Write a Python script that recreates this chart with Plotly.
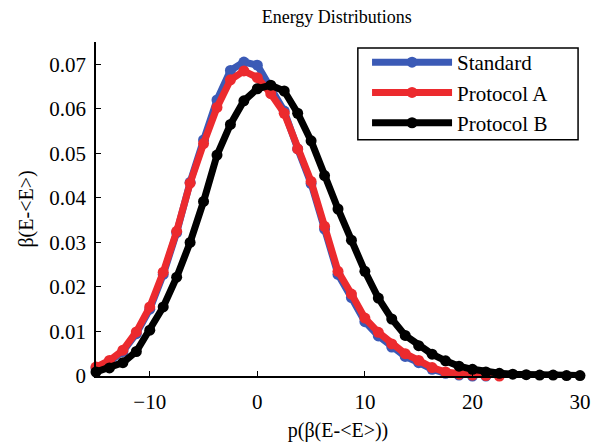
import plotly.graph_objects as go

# bin centres of the energy histograms
x_bins = [-15, -13.75, -12.5, -11.25, -10, -8.75, -7.5, -6.25, -5, -3.75, -2.5, -1.25, 0,
          1.25, 2.5, 3.75, 5, 6.25, 7.5, 8.75, 10, 11.25, 12.5, 13.75, 15, 16.25, 17.5,
          18.75, 20, 21.25, 22.5, 23.75, 25, 26.25, 27.5, 28.75, 30]

standard = [0.0018, 0.0032, 0.0055, 0.0095, 0.0150, 0.0228, 0.0322, 0.0435, 0.0530, 0.0620,
            0.0686, 0.0705, 0.0698, 0.0645, 0.0595, 0.0510, 0.0432, 0.0330, 0.0228, 0.0176,
            0.0122, 0.0090, 0.0065, 0.0044, 0.0030, 0.0015, 0.0006, 0.0002, 0.0, 0.0,
            None, None, None, None, None, None, None]

protocol_a = [0.0020, 0.0035, 0.0058, 0.0099, 0.0155, 0.0233, 0.0325, 0.0433, 0.0522, 0.0603,
              0.0665, 0.0685, 0.0670, 0.0634, 0.0590, 0.0510, 0.0437, 0.0336, 0.0235, 0.0184,
              0.0130, 0.0098, 0.0072, 0.0050, 0.0035, 0.0019, 0.0009, 0.0004, 0.0002, 0.0001,
              0.0, None, None, None, None, None, None]

protocol_b = [0.0009, 0.0018, 0.0030, 0.0055, 0.0103, 0.0155, 0.0222, 0.0300, 0.0392, 0.0496,
              0.0565, 0.0618, 0.0645, 0.0653, 0.0640, 0.0590, 0.0528, 0.0450, 0.0375, 0.0305,
              0.0235, 0.0175, 0.0128, 0.0091, 0.0068, 0.0049, 0.0034, 0.0022, 0.0015, 0.0009,
              0.0006, 0.0004, 0.0003, 0.0002, 0.0002, 0.0001, 0.0001]

x_ticks = [-10, 0, 10, 20, 30]
y_ticks = [0, 0.01, 0.02, 0.03, 0.04, 0.05, 0.06, 0.07]
y_tick_text = ['0', '0.01', '0.02', '0.03', '0.04', '0.05', '0.06', '0.07']

series = [('Standard', standard, '#3b5ab6'),
          ('Protocol A', protocol_a, '#ec2a2e'),
          ('Protocol B', protocol_b, '#000000')]

fig = go.Figure()
for name, vals, col in series:
    fig.add_trace(go.Scatter(
        x=x_bins, y=vals, name=name, mode='lines+markers',
        line=dict(color=col, width=7),
        marker=dict(color=col, size=11),
        cliponaxis=False
    ))

font_family = 'Liberation Serif, Times New Roman, serif'

# page body has an 8px margin, so left/top margins are 8px smaller
fig.update_layout(
    width=600, height=446,
    plot_bgcolor='white', paper_bgcolor='white',
    font=dict(family=font_family, color='black', size=21),
    title=dict(text='Energy Distributions', x=0.548, xanchor='center',
               y=0.995, yanchor='top', font=dict(size=18)),
    margin=dict(l=88, r=28, t=34, b=78),
    showlegend=True,
    legend=dict(x=0.56, y=1.0, xanchor='left', yanchor='top',
                borderwidth=0, bgcolor='rgba(0,0,0,0)',
                font=dict(size=21), tracegroupgap=0, itemwidth=80),
    xaxis=dict(range=[-15, 30], tickvals=x_ticks, showgrid=False, zeroline=False,
               showline=True, linecolor='black', linewidth=1.5,
               ticks='inside', ticklen=5, tickcolor='black', ticklabelstandoff=6,
               title=dict(text='p(β(E-&lt;E&gt;))', font=dict(size=20), standoff=10),
               tickfont=dict(size=21)),
    yaxis=dict(range=[0, 0.075], tickvals=y_ticks, ticktext=y_tick_text, showgrid=False,
               zeroline=False, showline=True, linecolor='black', linewidth=1.5,
               ticks='inside', ticklen=5, tickcolor='black', ticklabelstandoff=4,
               title=dict(text='β(E-&lt;E&gt;)', font=dict(size=20), standoff=10),
               tickfont=dict(size=21))
)

# legend frame
fig.add_shape(type='rect', xref='paper', yref='paper',
              x0=0.541, x1=0.996, y0=0.707, y1=0.982,
              line=dict(color='black', width=1.5), fillcolor='white', layer='below')

fig.write_html("out.html")
